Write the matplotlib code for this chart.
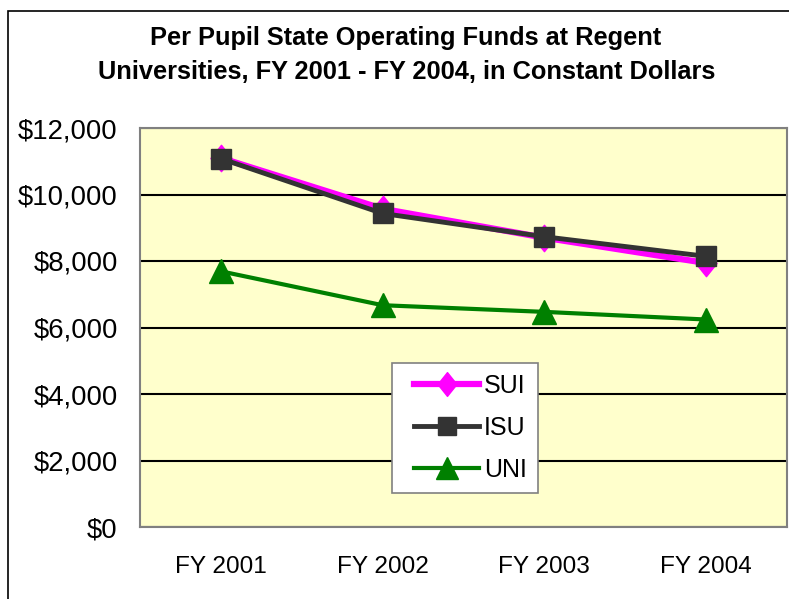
import matplotlib
matplotlib.use("Agg")
import matplotlib.pyplot as plt
from matplotlib.ticker import FuncFormatter
from matplotlib.patches import Rectangle
from matplotlib.path import Path
from matplotlib.legend_handler import HandlerLine2D

plt.rcParams['font.family'] = ['Liberation Sans', 'DejaVu Sans']

categories = ["FY 2001", "FY 2002", "FY 2003", "FY 2004"]
sui = [11100, 9570, 8700, 7940]
isu = [11080, 9430, 8730, 8140]
uni = [7690, 6670, 6470, 6240]
yticks = [0, 2000, 4000, 6000, 8000, 10000, 12000]

diamond = Path([(0, 1), (0.8, 0), (0, -1), (-0.8, 0), (0, 1)],
               [Path.MOVETO, Path.LINETO, Path.LINETO, Path.LINETO, Path.CLOSEPOLY])

fig = plt.figure(figsize=(7.89, 5.99), dpi=100)
fig.patch.set_facecolor('white')

# outer chart border (cropped on right/bottom)
fig.patches.append(Rectangle((8/789, -0.1), 1.2, 1 - 11/599 + 0.1,
                             transform=fig.transFigure, fill=False,
                             edgecolor='black', linewidth=1.2))

ax = fig.add_axes([140/789, 1 - 527/599, (787-140)/789, (527-128)/599])
ax.set_facecolor('#FFFFCC')
x = list(range(len(categories)))

l1, = ax.plot(x, sui, color='#FF00FF', lw=4.5, marker=diamond, markersize=19,
              markeredgecolor='#FF00FF', markerfacecolor='#FF00FF', label='SUI', zorder=3)
l2, = ax.plot(x, isu, color='#333333', lw=3.5, marker='s', markersize=15,
              markeredgecolor='#333333', markerfacecolor='#333333', label='ISU', zorder=4)
l3, = ax.plot(x, uni, color='#008000', lw=3, marker='^', markersize=17,
              markeredgecolor='#008000', markerfacecolor='#008000', label='UNI', zorder=3)

ax.set_xlim(-0.5, 3.5)
ax.set_ylim(0, 12000)
ax.set_yticks(yticks)
ax.yaxis.set_major_formatter(FuncFormatter(lambda v, p: "${:,.0f}".format(v)))
ax.set_xticks(x)
ax.set_xticklabels(categories)
ax.tick_params(axis='y', length=0, pad=16, labelsize=19.8)
ax.tick_params(axis='x', length=0, pad=21, labelsize=17.6)
ax.grid(axis='y', color='black', lw=1.5, zorder=1)
ax.set_axisbelow(True)
for s in ax.spines.values():
    s.set_color('#808080')
    s.set_linewidth(1.5)

hm = {h: HandlerLine2D(xpad=0.44) for h in (l1, l2, l3)}
leg = ax.legend(handles=[l1, l2, l3], handler_map=hm,
                loc='upper left', bbox_to_anchor=((392-140)/647, (527-363)/399),
                fontsize=18, frameon=True, fancybox=False, shadow=False,
                handlelength=3.04, borderpad=0.44, labelspacing=0.72,
                handletextpad=0.2, borderaxespad=0, markerscale=0.9)
leg.get_frame().set_edgecolor('#808080')
leg.get_frame().set_linewidth(1.2)
leg.get_frame().set_facecolor('white')
leg.get_frame().set_alpha(1)

fig.text(406/789, 1 - 38/599, "Per Pupil State Operating Funds at Regent",
         ha='center', va='center', fontsize=18.3, fontweight='bold')
fig.text(407/789, 1 - 72/599, "Universities, FY 2001 - FY 2004, in Constant Dollars",
         ha='center', va='center', fontsize=18.3, fontweight='bold')

fig.savefig("out.png", dpi=100)
